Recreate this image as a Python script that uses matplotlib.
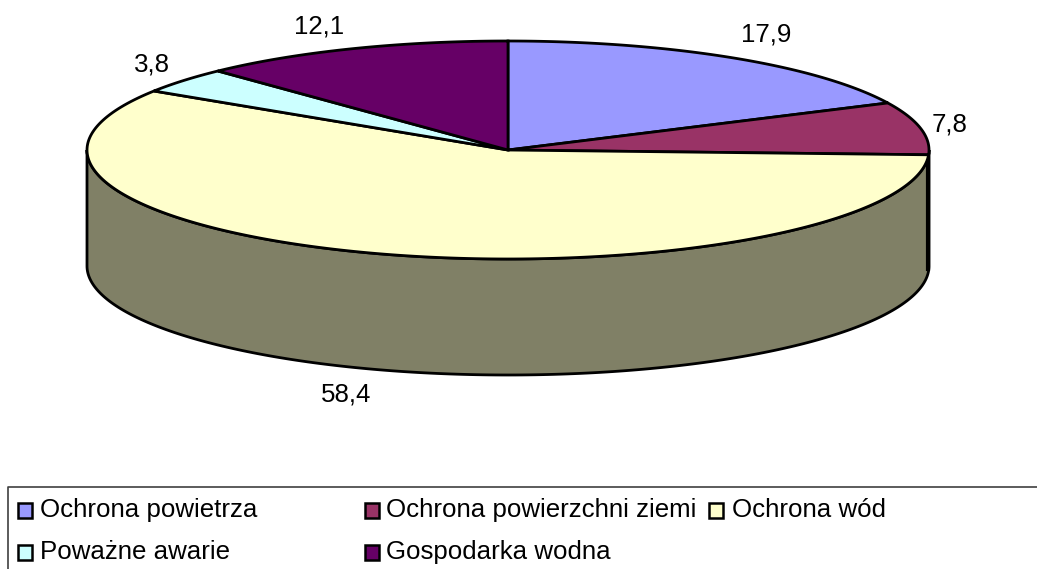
import numpy as np
import matplotlib
matplotlib.use('Agg')
import matplotlib.pyplot as plt
from matplotlib.patches import Polygon, Rectangle

plt.rcParams['font.family'] = ['Liberation Sans', 'DejaVu Sans']

categories = ['Ochrona powietrza', 'Ochrona powierzchni ziemi', 'Ochrona wód',
              'Poważne awarie', 'Gospodarka wodna']
values = [17.9, 7.8, 58.4, 3.8, 12.1]
value_labels = ['17,9', '7,8', '58,4', '3,8', '12,1']
colors = ['#9999FF', '#993366', '#FFFFCC', '#CCFFFF', '#660066']
side_colors = ['#4C4C80', '#4C1933', '#808066', '#668080', '#330033']

# pie geometry in pixels
cx, cy = 508, 150
rx, ry = 421, 109
depth = 116

# label spots in pixels, same order as values
label_pos = [(766, 34), (950, 124), (346, 394), (152, 64), (319, 26)]

# legend spots in pixels: swatch left edge, text left edge, row centre
legend_pos = [(18, 40, 510), (365, 386, 510), (709, 732, 510), (18, 40, 552), (365, 386, 552)]

fig = plt.figure(figsize=(10.37, 5.69), dpi=100)
ax = fig.add_axes([0, 0, 1, 1])
ax.set_xlim(0, 1037)
ax.set_ylim(569, 0)
ax.axis('off')


def rim(a0, a1, n=200):
    t = np.linspace(a0, a1, n)
    return cx + rx * np.sin(t), cy - ry * np.cos(t)


edges = np.cumsum([0] + values) / sum(values) * 2 * np.pi

# side wall, only the front half of the ellipse shows
for i in range(len(values)):
    a0 = max(edges[i], np.pi / 2)
    a1 = min(edges[i + 1], 3 * np.pi / 2)
    if a0 >= a1:
        continue
    x, y = rim(a0, a1)
    pts = np.column_stack([np.r_[x, x[::-1]], np.r_[y, y[::-1] + depth]])
    ax.add_patch(Polygon(pts, closed=True, fc=side_colors[i], ec='black', lw=2, zorder=2))

# black wall at the start of the yellow slice, on the right edge
x0, y0 = rim(edges[2], edges[2], 1)
ax.plot([x0[0] - 1, x0[0] - 1], [y0[0], y0[0] + depth - 2], color='black', lw=3, zorder=3)

# top faces
for i in range(len(values)):
    x, y = rim(edges[i], edges[i + 1])
    pts = np.column_stack([np.r_[cx, x], np.r_[cy, y]])
    ax.add_patch(Polygon(pts, closed=True, fc=colors[i], ec='black', lw=2, zorder=4))

for (lx, ly), txt in zip(label_pos, value_labels):
    ax.text(lx, ly, txt, fontsize=18.6, ha='center', va='center', color='black')

# legend box, open at the right and bottom like the reference
ax.plot([1037, 8, 8], [487, 487, 569], color='#404040', lw=1.2, zorder=5, clip_on=False)
for (sx, tx, ly), name, col in zip(legend_pos, categories, colors):
    ax.add_patch(Rectangle((sx, ly - 7), 14, 15, fc=col, ec='black', lw=1.8, zorder=6))
    ax.text(tx, ly, name, fontsize=18.6, ha='left', va='center', color='black')

fig.savefig('out.png', dpi=100)
